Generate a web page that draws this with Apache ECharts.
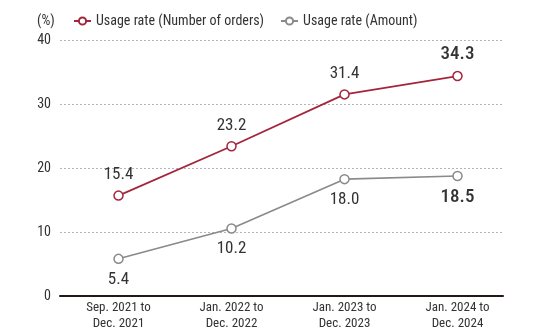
<!DOCTYPE html>
<html><head><meta charset="utf-8">
<script src="https://cdn.jsdelivr.net/npm/echarts@6/dist/echarts.min.js"></script>
<style>html,body{margin:0;padding:0;background:#fff}#c{width:535px;height:332px}</style>
</head><body><div id="c"></div>
<script>
const categories = ['Sep. 2021 to\nDec. 2021', 'Jan. 2022 to\nDec. 2022', 'Jan. 2023 to\nDec. 2023', 'Jan. 2024 to\nDec. 2024'];
const ordersRate = [15.4, 23.2, 31.4, 34.3];
const amountRate = [5.4, 10.2, 18.0, 18.5];
const yTicks = [0, 10, 20, 30, 40];
const seriesNames = ['Usage rate (Number of orders)', 'Usage rate (Amount)'];

const FONT = '"Liberation Sans Narrow", "Roboto Condensed", Roboto, sans-serif';
const RED = '#a3263d', GRAY = '#8a8a8a';

function lastBig(arr) {
  return arr.map((v, i) => i === arr.length - 1
    ? { value: v, label: { fontSize: 19, fontWeight: 500 } }
    : v);
}

const chart = echarts.init(document.getElementById('c'));
chart.setOption({
  animation: false,
  textStyle: { fontFamily: FONT },
  title: { text: '(%)', left: 32, top: 9, textStyle: { fontFamily: FONT, fontSize: 14, fontWeight: 'normal', color: '#333' } },
  legend: {
    left: 68, top: 9, itemWidth: 17, itemHeight: 9, itemGap: 16,
    textStyle: { fontFamily: FONT, fontSize: 14, color: '#333' },
    data: seriesNames
  },
  grid: [
    { left: 60, right: 32, top: 40, bottom: 36 },
    { left: 62, right: 21, top: 40, bottom: 36 }
  ],
  xAxis: [
    { type: 'category', gridIndex: 0, data: categories, boundaryGap: true,
      axisLine: { lineStyle: { color: '#231815', width: 2 } },
      axisTick: { show: false }, axisLabel: { show: false } },
    { type: 'category', gridIndex: 1, data: categories, boundaryGap: true,
      axisLine: { show: false }, axisTick: { show: false },
      axisLabel: { fontFamily: FONT, fontSize: 13, color: '#333', lineHeight: 16, margin: 7, interval: 0 } }
  ],
  yAxis: [
    { type: 'value', gridIndex: 0, min: yTicks[0], max: yTicks[yTicks.length - 1], interval: 10,
      axisLine: { show: false }, axisTick: { show: false },
      axisLabel: { fontFamily: FONT, fontSize: 14, color: '#333', margin: 9 },
      splitLine: { lineStyle: { color: '#b5b5b5', type: [2, 2], width: 1 } } },
    { type: 'value', gridIndex: 1, min: yTicks[0], max: yTicks[yTicks.length - 1], interval: 10,
      show: false, splitLine: { show: false } }
  ],
  series: [
    { name: seriesNames[0], type: 'line', xAxisIndex: 1, yAxisIndex: 1, data: lastBig(ordersRate),
      symbol: 'circle', symbolSize: 9, color: RED,
      lineStyle: { color: RED, width: 1.8 },
      itemStyle: { color: '#fff', borderColor: RED, borderWidth: 1.5 },
      label: { show: true, position: 'top', distance: 7, fontFamily: FONT, fontSize: 17, color: '#333', formatter: p => p.value.toFixed(1) } },
    { name: seriesNames[1], type: 'line', xAxisIndex: 1, yAxisIndex: 1, data: lastBig(amountRate),
      symbol: 'circle', symbolSize: 9, color: GRAY,
      lineStyle: { color: GRAY, width: 1.6 },
      itemStyle: { color: '#fff', borderColor: GRAY, borderWidth: 1.5 },
      label: { show: true, position: 'bottom', distance: 7, fontFamily: FONT, fontSize: 17, color: '#333', formatter: p => p.value.toFixed(1) } }
  ]
});
</script></body></html>
